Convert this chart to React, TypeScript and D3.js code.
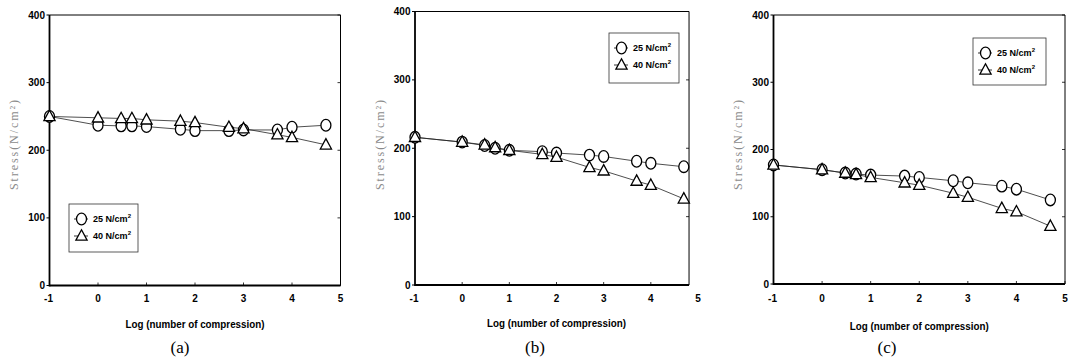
import * as d3 from "d3";
import React from "react";

// x positions: log of the number of compressions
const logN = [-1, 0, 0.477, 0.699, 1, 1.699, 2, 2.699, 3, 3.699, 4, 4.699];

// stress (N/cm2)
const a25 = [250, 237, 236, 236, 235, 231, 229, 229, 230, 230, 234, 237];
const a40 = [250, 248, 247, 247, 245, 243, 241, 234, 232, 223, 219, 208];
const b25 = [216, 209, 204, 200, 197, 195, 193, 190, 188, 181, 178, 173];
const b40 = [216, 209, 205, 201, 197, 191, 187, 172, 167, 152, 146, 126];
const c25 = [177, 170, 165, 163.5, 162, 160.5, 158.5, 153.5, 150.5, 145.5, 141, 125];
const c40 = [177, 170, 165, 163, 158.5, 150.5, 147, 135, 129, 112.5, 107.5, 86];

const xTicks = [-1, 0, 1, 2, 3, 4, 5];
const yTicks = [0, 100, 200, 300, 400];
const seriesNames = ["25 N/cm", "40 N/cm"];
const captions = ["(a)", "(b)", "(c)"];

const layouts = [
  { x0: 49.5, x1: 340.5, y0: 285.5, y1: 15, frameEnd: 5, lx: 69, ly: 204, lw: 69, lh: 48, cap: 180, xl: 324 },
  { x0: 415, x1: 698, y0: 285, y1: 11.5, frameEnd: 4.81, lx: 609, ly: 33, lw: 70, lh: 50, cap: 535, xl: 323 },
  { x0: 773.5, x1: 1065, y0: 284, y1: 15, frameEnd: 5, lx: 973, ly: 38, lw: 73, lh: 47, cap: 887, xl: 326 },
];

const panels = [
  [a25, a40],
  [b25, b40],
  [c25, c40],
];

const sans = "'Liberation Sans', Arial, sans-serif";
const serif = "'Liberation Serif', 'Times New Roman', serif";

const Circle = ({ cx, cy }: { cx: number; cy: number }) => (
  <ellipse cx={cx} cy={cy} rx={5} ry={5.8} fill="#fff" stroke="#000" strokeWidth={1.3} />
);

const Triangle = ({ cx, cy }: { cx: number; cy: number }) => (
  <path
    d={`M${cx},${cy - 6.2}L${cx + 5.6},${cy + 4.2}L${cx - 5.6},${cy + 4.2}Z`}
    fill="#fff"
    stroke="#000"
    strokeWidth={1.3}
    strokeLinejoin="miter"
  />
);

const Panel = ({ idx }: { idx: number }) => {
  const L = layouts[idx];
  const series = panels[idx];
  const x = d3.scaleLinear().domain([-1, 5]).range([L.x0, L.x1]);
  const y = d3.scaleLinear().domain([0, 400]).range([L.y0, L.y1]);
  const xr = x(L.frameEnd);
  const line = d3
    .line<number>()
    .x((_, i) => x(logN[i]))
    .y((d) => y(d));

  return (
    <g>
      {/* frame */}
      <line x1={L.x0} x2={xr} y1={L.y1} y2={L.y1} stroke="#000" strokeWidth={1} />
      <line x1={xr} x2={xr} y1={L.y1} y2={L.y0} stroke="#000" strokeWidth={1} />
      <line x1={L.x0} x2={L.x0} y1={L.y1} y2={L.y0 + 1} stroke="#000" strokeWidth={1.8} />
      <line x1={L.x0} x2={xr} y1={L.y0} y2={L.y0} stroke="#000" strokeWidth={1.8} />

      {yTicks.map((t) => (
        <g key={"y" + t}>
          <line x1={L.x0 - 3} x2={L.x0} y1={y(t)} y2={y(t)} stroke="#000" strokeWidth={1} />
          <line x1={xr - 3} x2={xr} y1={y(t)} y2={y(t)} stroke="#000" strokeWidth={0.8} />
          <text
            x={L.x0 - 4.5}
            y={y(t)}
            dy="0.35em"
            textAnchor="end"
            fontFamily={sans}
            fontWeight="bold"
            fontSize={10}
          >
            {t}
          </text>
        </g>
      ))}
      {xTicks.map((t) => (
        <g key={"x" + t}>
          {t > -1 && t <= L.frameEnd && (
            <line x1={x(t)} x2={x(t)} y1={L.y0} y2={L.y0 - 3} stroke="#000" strokeWidth={0.8} />
          )}
          <text
            x={x(t) + (t < 0 ? -1 : 0)}
            y={298}
            dy="0.35em"
            textAnchor="middle"
            fontFamily={sans}
            fontWeight="bold"
            fontSize={10}
          >
            {t}
          </text>
        </g>
      ))}

      {/* axis titles */}
      <text
        x={(L.x0 + L.x1) / 2}
        y={L.xl}
        dy="0.35em"
        textAnchor="middle"
        fontFamily={sans}
        fontWeight="bold"
        fontSize={11}
        textLength={139}
        lengthAdjust="spacingAndGlyphs"
      >
        Log (number of compression)
      </text>
      <text
        transform={`translate(${L.x0 - 35.5},145) rotate(-90)`}
        textAnchor="middle"
        dy="0.35em"
        fontFamily={serif}
        fontSize={12}
        fill="#8a8a8a"
        textLength={90}
        lengthAdjust="spacing"
      >
        Stress(N/cm²)
      </text>
      <text x={L.cap} y={347} dy="0.35em" textAnchor="middle" fontFamily={serif} fontSize={17}>
        {captions[idx]}
      </text>

      {/* data */}
      {series.map((s, si) => (
        <path key={"l" + si} d={line(s) ?? ""} fill="none" stroke="#222" strokeWidth={0.8} />
      ))}
      {series[0].map((v, i) => (
        <Circle key={"c" + i} cx={x(logN[i])} cy={y(v)} />
      ))}
      {series[1].map((v, i) => (
        <Triangle key={"t" + i} cx={x(logN[i])} cy={y(v)} />
      ))}

      {/* legend */}
      <rect x={L.lx} y={L.ly} width={L.lw} height={L.lh} fill="#fff" stroke="#333" strokeWidth={0.8} />
      {seriesNames.map((name, si) => {
        const ry = L.ly + 15 + si * 17;
        return (
          <g key={"lg" + si}>
            <line x1={L.lx + 5} x2={L.lx + 19} y1={ry} y2={ry} stroke="#000" strokeWidth={0.8} />
            {si === 0 ? <Circle cx={L.lx + 12.5} cy={ry} /> : <Triangle cx={L.lx + 12.5} cy={ry} />}
            <text
              x={L.lx + 24}
              y={ry}
              dy="0.35em"
              fontFamily={sans}
              fontWeight="bold"
              fontSize={9}
              textLength={38}
              lengthAdjust="spacingAndGlyphs"
            >
              {name}
              <tspan dy="-4" fontSize={6}>
                2
              </tspan>
            </text>
          </g>
        );
      })}
    </g>
  );
};

export default function App() {
  return (
    <svg
      width={1072}
      height={361}
      style={{ position: "absolute", left: 0, top: 0, background: "#fff" }}
    >
      {layouts.map((_, i) => (
        <Panel key={i} idx={i} />
      ))}
    </svg>
  );
}
